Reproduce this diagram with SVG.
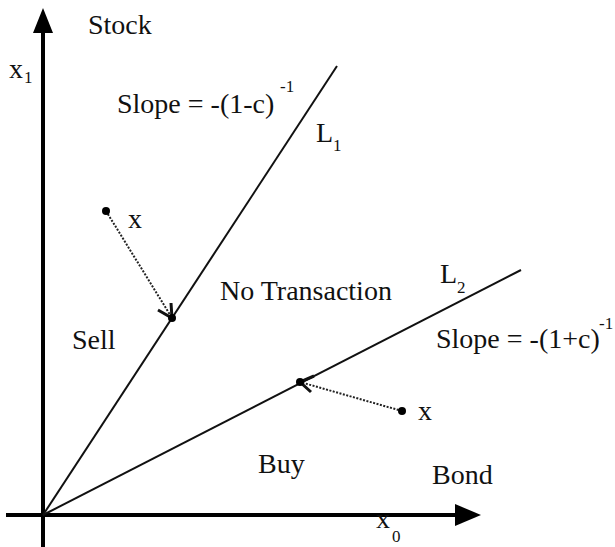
<svg xmlns="http://www.w3.org/2000/svg" width="615" height="547" viewBox="0 0 615 547">
<style>
text{font-family:"Liberation Serif","DejaVu Serif",serif;fill:#111;}
.t{font-size:28px;}
.s{font-size:17px;}
.axis{stroke:#000;stroke-width:4;fill:none;}
.ln{stroke:#111;stroke-width:2;fill:none;}
.dot{stroke:#222;stroke-width:2;stroke-dasharray:2 1.5;fill:none;}
.barb{stroke:#111;stroke-width:3;fill:none;}
</style>
<rect width="615" height="547" fill="#fff"/>
<g id="axes">
<line class="axis" x1="43" y1="547" x2="43" y2="30"/>
<polygon points="43,8 33,33 53,33" fill="#000"/>
<line class="axis" x1="6" y1="515" x2="458" y2="515"/>
<polygon points="481,515 455,504 455,526" fill="#000"/>
</g>
<g id="connectors">
<line id="L1" class="ln" x1="43" y1="515" x2="337" y2="66"/>
<line id="L2" class="ln" x1="43" y1="515" x2="521" y2="270"/>
<line class="dot" x1="106" y1="211" x2="172" y2="318"/>
<polyline class="barb" points="158,310 172,318 171,303"/>
<line class="dot" x1="402" y1="411" x2="300" y2="382"/>
<polyline class="barb" points="314,376 300,382 311,392"/>
</g>
<g id="points">
<circle cx="106" cy="211" r="4" fill="#000"/>
<circle cx="172" cy="318" r="4" fill="#000"/>
<circle cx="300" cy="382" r="4" fill="#000"/>
<circle cx="402" cy="411" r="4" fill="#000"/>
</g>
<g id="labels">
<text class="t" x="88" y="34">Stock</text>
<text class="t" x="9" y="78">x</text><text class="s" x="24" y="83">1</text>
<text class="t" x="117" y="113">Slope = -(1-c)</text><text class="s" x="280" y="92">-1</text>
<text class="t" x="316" y="142">L</text><text class="s" x="333" y="151">1</text>
<text class="t" x="128" y="228">x</text>
<text class="t" x="220" y="300">No Transaction</text>
<text class="t" x="72" y="349">Sell</text>
<text class="t" x="440" y="283">L</text><text class="s" x="457" y="293">2</text>
<text class="t" x="436" y="348">Slope = -(1+c)</text><text class="s" x="599" y="329">-1</text>
<text class="t" x="376" y="528">x</text><text class="s" x="392" y="542">0</text>
<text class="t" x="418" y="420">x</text>
<text class="t" x="258" y="473">Buy</text>
<text class="t" x="432" y="484">Bond</text>
</g>
</svg>
